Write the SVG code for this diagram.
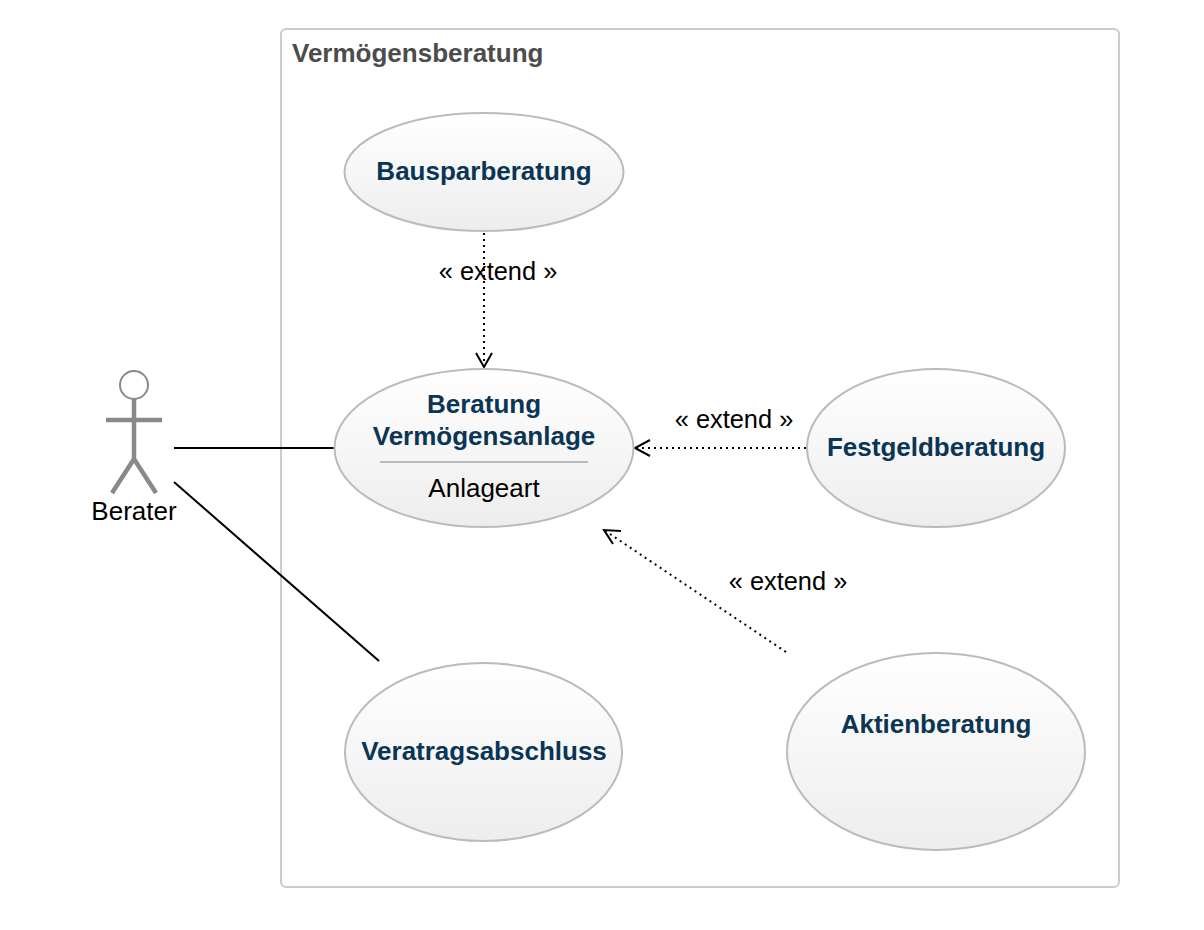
<svg xmlns="http://www.w3.org/2000/svg" width="1204" height="930" viewBox="0 0 1204 930">
<style>
text{font-family:"Liberation Sans",Arial,sans-serif}
.uc{fill:url(#g);stroke:#bbb;stroke-width:2}
.t{font-size:26px;font-weight:bold;fill:#0a3555;text-anchor:middle}
.l{font-size:26px;fill:#000;text-anchor:middle}
.e{font-size:25.4px;fill:#000;text-anchor:middle}
.a{fill:none;stroke:#898989;stroke-width:4.5}
.c{fill:none;stroke:#000;stroke-width:2}
.d{fill:none;stroke:#000;stroke-width:2;stroke-dasharray:2 4}
.h{fill:none;stroke:#000;stroke-width:2}
</style>
<defs>
<linearGradient id="g" x1="0" y1="0" x2="0" y2="1"><stop offset="0" stop-color="#fff"/><stop offset="1" stop-color="#ededed"/></linearGradient>
</defs>
<rect width="1204" height="930" fill="#fff"/>
<g id="boundary">
<rect x="281" y="29" width="838" height="858" rx="5" fill="#fff" stroke="#ccc" stroke-width="2"/>
<text x="292" y="62" font-size="26" font-weight="bold" fill="#4c4c4c">Vermögensberatung</text>
</g>
<g id="connectors">
<path class="c" d="M174 448H334"/>
<path class="c" d="M174 482L379 661"/>
<path class="d" d="M484 233V368"/>
<path class="h" d="M476 353L484 367L492 353"/>
<path class="d" d="M806 448H634"/>
<path class="h" d="M650 440L635 448L650 456"/>
<path class="d" d="M786 652L604 530"/>
<path class="h" d="M621 531L604 530L613 544"/>
<text class="e" x="498" y="280">« extend »</text>
<text class="e" x="734" y="428">« extend »</text>
<text class="e" x="788" y="590">« extend »</text>
</g>
<g id="actor">
<circle cx="134" cy="385" r="14" fill="#fff" stroke="#898989" stroke-width="2"/>
<path class="a" d="M134 399V459M106 420H162M112 493L134 459L156 493"/>
<text class="l" x="134" y="520">Berater</text>
</g>
<g id="bauspar">
<ellipse class="uc" cx="484" cy="172" rx="139.500" ry="59"/>
<text class="t" x="484" y="180">Bausparberatung</text>
</g>
<g id="vermoegen">
<ellipse class="uc" cx="484" cy="448" rx="149.500" ry="79"/>
<text class="t" x="484" y="413">Beratung</text>
<text class="t" x="484" y="445">Vermögensanlage</text>
<path d="M380 462H588" stroke="#bbb" stroke-width="2"/>
<text class="l" x="484" y="497">Anlageart</text>
</g>
<g id="festgeld">
<ellipse class="uc" cx="936" cy="448" rx="129" ry="79"/>
<text class="t" x="936" y="456">Festgeldberatung</text>
</g>
<g id="vertrag">
<ellipse class="uc" cx="483.500" cy="752" rx="138.500" ry="89"/>
<text class="t" x="484" y="760">Veratragsabschluss</text>
</g>
<g id="aktien">
<ellipse class="uc" cx="936" cy="751.500" rx="149" ry="98.500"/>
<text class="t" x="936" y="733">Aktienberatung</text>
</g>
</svg>
